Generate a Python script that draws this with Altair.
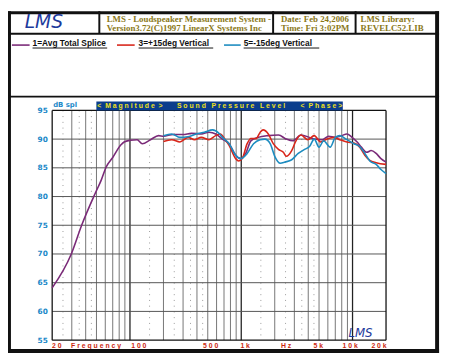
import altair as alt
import pandas as pd

W, H = 340, 234
PAD_L, PAD_T = 45, 101
PAD_R = 442 - PAD_L - W
PAD_B = 354 - PAD_T - H

# ---- data ----
freq_avg = [20, 29.7, 36.8, 48.3, 55.3, 61, 70, 83, 88.6, 101, 116, 129, 153, 181, 200, 245, 300, 356, 437,
            513, 590, 678, 778, 890, 989, 1098, 1220, 1420, 1750, 2160, 2540, 2900, 3440, 4100, 4530, 5350,
            6100, 7000, 8000, 8900, 9900, 11000, 12000, 13400, 14700, 16300, 18000, 20000]
db_avg = [64.1, 70.0, 75.0, 80.4, 82.9, 85.1, 86.8, 89.0, 89.5, 89.8, 89.9, 89.2, 89.9, 90.6, 90.5, 90.8, 90.8,
          91.0, 90.9, 91.2, 90.9, 90.0, 89.2, 87.2, 86.6, 87.5, 89.7, 90.3, 90.6, 90.7, 90.0, 89.7, 90.7, 90.3,
          90.0, 89.9, 90.5, 90.3, 90.6, 90.9, 90.3, 89.5, 88.6, 87.7, 88.0, 87.5, 86.6, 86.0]

freq_up = [200, 237, 281, 333, 380, 437, 513, 590, 651, 700, 778, 890, 950, 1020, 1130, 1220, 1360, 1480, 1570,
           1750, 1940, 2160, 2390, 2540, 2840, 3100, 3440, 3960, 4530, 5170, 5900, 6800, 7700, 8900, 10300,
           11600, 12900, 14300, 16300, 20000]
db_up = [89.6, 89.9, 89.5, 90.3, 89.9, 90.3, 89.9, 90.6, 90.9, 90.2, 88.9, 86.6, 86.2, 86.6, 89.2, 90.1, 90.1,
         91.2, 91.6, 90.9, 89.2, 88.2, 87.7, 87.0, 88.0, 89.7, 90.7, 89.9, 90.6, 89.5, 90.0, 90.3, 89.9, 89.5,
         89.3, 88.6, 87.2, 86.3, 85.9, 85.6]

freq_down = [200, 237, 281, 333, 393, 466, 552, 631, 678, 778, 890, 989, 1130, 1290, 1480, 1630, 1820, 2000,
             2240, 2470, 2840, 3250, 3700, 4100, 4530, 5000, 5500, 6300, 7000, 7700, 8900, 10300, 11600, 12900,
             14300, 16300, 18000, 20000]
db_down = [90.6, 90.9, 90.3, 90.4, 90.9, 91.2, 91.6, 91.0, 90.3, 89.2, 87.2, 86.6, 87.5, 89.2, 89.9, 90.0, 89.2,
           87.0, 85.8, 86.0, 86.4, 87.5, 88.2, 88.7, 90.0, 88.6, 89.7, 88.6, 90.3, 90.6, 89.9, 89.2, 88.7, 87.5,
           86.2, 85.6, 84.7, 84.0]

series_names = ["1=Avg Total Splice", "3=+15deg Vertical", "5=-15deg Vertical"]
series_colors = ["#7a2a78", "#d8261a", "#1c8cc0"]

y_ticks = [55, 60, 65, 70, 75, 80, 85, 90, 95]
x_labels = ["20", "Frequency", "100", "500", "1k", "Hz", "5k", "10k", "20k"]
x_label_pos = [22, 49.6, 120, 532, 1084, 2530, 4930, 9520, 17300]

solid_grid = [m * 10 ** e for e in (1, 2, 3) for m in range(2, 10) if 20 < m * 10 ** e < 20000]
decade_grid = [100, 1000, 10000]
dotted_grid = [m * 10 ** e for e in (1, 2, 3) for m in (1.5, 2.5, 3.5, 4.5) if 20 < m * 10 ** e < 20000]
h_grid = [60, 65, 70, 75, 80, 85, 90]

header_texts = [("LMS - Loudspeaker Measurement System -", "Version3.72(C)1997 LinearX Systems Inc"),
                ("Date: Feb 24,2006", "Time: Fri 3:02PM"),
                ("LMS Library:", "REVELC52.LIB")]

# ---- build ----
xs = alt.Scale(type="log", domain=[20, 20000], nice=False, zero=False)
ys = alt.Scale(domain=[55, 95], nice=False, zero=False)
yaxis = alt.Axis(values=y_ticks, ticks=False, domain=False, grid=False, labelPadding=5, title=None,
                 labelColor="#1a88c8", labelFont="DejaVu Sans", labelFontWeight="bold", labelFontSize=7.5)

one = pd.DataFrame({"a": [0]})
layers = []
NB = "\u00a0"


def rect(x1, x2, y1, y2, color):
    layers.append(alt.Chart(one).mark_rect(color=color).encode(
        x=alt.value(x1), x2=alt.value(x2), y=alt.value(y1), y2=alt.value(y2)))


def hrule(x1, x2, y, color, w=1.0):
    layers.append(alt.Chart(one).mark_rule(color=color, strokeWidth=w).encode(
        x=alt.value(x1), x2=alt.value(x2), y=alt.value(y)))


def vrule(x, y1, y2, color, w=1.0):
    layers.append(alt.Chart(one).mark_rule(color=color, strokeWidth=w).encode(
        x=alt.value(x), y=alt.value(y1), y2=alt.value(y2)))


def text(x, y, s, **kw):
    layers.append(alt.Chart(one).mark_text(**kw).encode(
        x=alt.value(x), y=alt.value(y), text=alt.value(s)))


def spaced(s, gap=3):
    return (NB * gap).join(NB.join(w) for w in s.split(" "))


# grid
layers.append(alt.Chart(pd.DataFrame({"f": dotted_grid})).mark_rule(color="#999999", strokeWidth=1, strokeDash=[1, 4.85]).encode(
    x=alt.X("f:Q", scale=xs, axis=None), y=alt.value(0), y2=alt.value(H)))
layers.append(alt.Chart(pd.DataFrame({"f": solid_grid})).mark_rule(color="#666666", strokeWidth=0.9).encode(
    x=alt.X("f:Q", scale=xs, axis=None), y=alt.value(0), y2=alt.value(H)))
layers.append(alt.Chart(pd.DataFrame({"f": decade_grid})).mark_rule(color="#222222", strokeWidth=1.3).encode(
    x=alt.X("f:Q", scale=xs, axis=None), y=alt.value(0), y2=alt.value(H)))
layers.append(alt.Chart(pd.DataFrame({"d": h_grid})).mark_rule(color="#555555", strokeWidth=1).encode(
    y=alt.Y("d:Q", scale=ys, axis=yaxis), x=alt.value(0), x2=alt.value(W)))
# plot frame
hrule(0, W, 0, "#111111", 1.3)
hrule(0, W, H, "#111111", 1.3)
vrule(0, 0, H, "#111111", 1.3)
vrule(W, 0, H, "#111111", 1.3)

# curves
rows = []
for name, fr, db in zip(series_names, [freq_avg, freq_up, freq_down], [db_avg, db_up, db_down]):
    for f, d in zip(fr, db):
        rows.append({"series": name, "freq": f, "db": d})
curves = pd.DataFrame(rows)
layers.append(alt.Chart(curves).mark_line(strokeWidth=1.6, interpolate="monotone").encode(
    x=alt.X("freq:Q", scale=xs, axis=None),
    y=alt.Y("db:Q", scale=ys, axis=yaxis),
    color=alt.Color("series:N", scale=alt.Scale(domain=series_names, range=series_colors), legend=None),
    detail="series:N"))

# x labels
layers.append(alt.Chart(pd.DataFrame({"f": x_label_pos, "t": [spaced(s) for s in x_labels]})).mark_text(
    font="Liberation Sans", fontWeight="bold", fontSize=7, color="#cc2a10", align="center", baseline="middle").encode(
    x=alt.X("f:Q", scale=xs, axis=None), y=alt.value(H + 6), text="t:N"))

# band above plot
rect(45, 296, -9, 0, "#0b3d8c")
band_kw = dict(font="Liberation Sans", fontWeight="bold", fontSize=7, color="#f0e020", align="left", baseline="middle")
text(46, -4.5, "<" + NB * 2 + spaced("Magnitude") + NB * 2 + ">", **band_kw)
text(127, -4.5, spaced("Sound Pressure Level"), **band_kw)
text(253, -4.5, "<" + NB * 2 + spaced("Phase") + NB + ">", **band_kw)
text(1, -5, "dB spl", font="DejaVu Sans", fontWeight="bold", fontSize=7, color="#1a88c8", align="left", baseline="middle")

# small logo in plot
text(314, 227, "LMS", font="DejaVu Sans", fontStyle="italic", fontSize=12, color="#1d3a9c", align="center", baseline="middle")

# outer frame
rect(-45, 394, -101, -98, "#111111")          # top
rect(-45, -42, -101, 247, "#111111")          # left
rect(390, 394, -101, 247, "#111111")          # right
rect(-45, 394, 243, 247, "#111111")           # bottom
rect(-45, 394, -79, -77, "#111111")           # header bottom
rect(-45, 394, -15, -13, "#111111")           # legend/plot separator
for sx in (47, 224, 308):
    rect(sx, sx + 2, -101, -78, "#111111")

# header
text(-8.5, -89.5, "LMS", font="DejaVu Sans", fontStyle="italic", fontSize=19, color="#1d3a9c", align="center", baseline="middle")
head_kw = dict(font="Liberation Serif", fontWeight="bold", fontSize=9, color="#8a7818", align="left", baseline="middle")
for hx, (l1, l2) in zip((55.5, 233, 314), header_texts):
    text(hx, -93, l1, **head_kw)
    text(hx, -84, l2, **head_kw)

# legend row
leg_kw = dict(font="Liberation Sans", fontWeight="bold", fontSize=8.5, color="#111111", align="left", baseline="middle")
for (sx1, sx2, tx, tx2), name, col in zip([(-41, -23, -20, 56), (66, 84, 88, 164), (175, 192, 195, 272)],
                                          series_names, series_colors):
    hrule(sx1, sx2, -66.5, col, 1.6)
    text(tx, -68.5, name, **leg_kw)
    hrule(tx, tx2, -63.5, "#111111", 1)

chart = alt.layer(*layers).properties(
    width=W, height=H,
    autosize=alt.AutoSizeParams(type="none"),
    padding={"left": PAD_L, "top": PAD_T, "right": PAD_R, "bottom": PAD_B},
    background="white",
).configure_view(stroke=None)

chart.save("out.html", embed_options={"renderer": "svg", "actions": False})
